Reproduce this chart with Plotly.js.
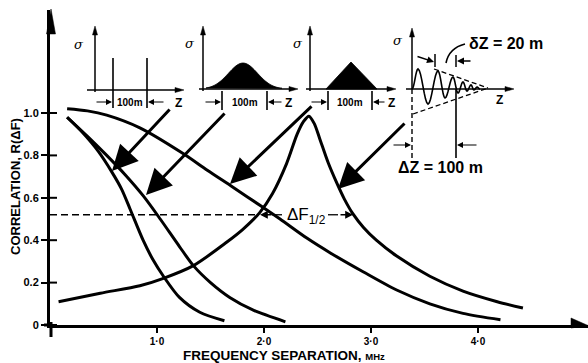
<!DOCTYPE html>
<html><head><meta charset="utf-8">
<script src="https://cdn.plot.ly/plotly-3.0.1.min.js"></script>
<style>html,body{margin:0;padding:0;background:#fff}#chart{width:588px;height:363px}</style>
</head><body><div id="chart"></div>
<script>
// ---- data ----
const freqA = [0.16, 0.30, 0.45, 0.58, 0.67, 0.75, 0.87, 0.96, 1.06, 1.21, 1.40, 1.63];
const corrA = [0.98, 0.91, 0.82, 0.72, 0.64, 0.545, 0.40, 0.31, 0.23, 0.13, 0.06, 0.02];

const freqB = [0.16, 0.35, 0.53, 0.70, 0.87, 1.03, 1.21, 1.34, 1.50, 1.68, 1.90, 2.20];
const corrB = [0.98, 0.89, 0.80, 0.71, 0.61, 0.50, 0.37, 0.28, 0.20, 0.13, 0.07, 0.015];

const freqC = [0.16, 0.35, 0.53, 0.84, 1.24, 1.47, 1.71, 1.99, 2.15, 2.40, 2.62, 2.93, 3.24, 3.55, 3.86, 4.21];
const corrC = [1.02, 1.01, 0.99, 0.93, 0.81, 0.73, 0.65, 0.555, 0.50, 0.41, 0.34, 0.25, 0.165, 0.10, 0.055, 0.025];

const freqD = [0.08, 0.47, 0.84, 1.06, 1.34, 1.65, 1.80, 1.96, 2.08, 2.21, 2.31, 2.37, 2.42, 2.47, 2.52, 2.60, 2.68, 2.75, 2.83, 2.93, 3.05, 3.24, 3.55, 3.86, 4.18, 4.42];
const corrD = [0.11, 0.15, 0.185, 0.22, 0.28, 0.39, 0.45, 0.53, 0.62, 0.76, 0.90, 0.96, 0.985, 0.95, 0.88, 0.765, 0.67, 0.595, 0.525, 0.46, 0.40, 0.325, 0.23, 0.16, 0.11, 0.08];

const halfLevel = 0.52;
const xTickVals = [1, 2, 3, 4];
const xTickText = ['1·0', '2·0', '3·0', '4·0'];
const yTickVals = [0, 0.2, 0.4, 0.6, 0.8, 1.0];
const yTickText = ['0', '0.2', '0.4', '0.6', '0.8', '1.0'];

// ---- layout geometry ----
const FONT = '"Liberation Sans","Arial","Helvetica",sans-serif';
const W = 588, H = 363, L = 50, R = 0, T = 10, B = 38;
const PXX = 107, PXY = 212;
const xMax = (W - L - R) / PXX, yMax = (H - T - B) / PXY;
const dx = p => (p - L) / PXX, dy = p => (H - B - p) / PXY;
const ppx = p => (p - L) / (W - L - R), ppy = p => (H - B - p) / (H - T - B);

const shapes = [];
const annotations = [];
function seg(x0, y0, x1, y1, w, dash) {
  shapes.push({type: 'line', xref: 'x', yref: 'y', x0: dx(x0), y0: dy(y0), x1: dx(x1), y1: dy(y1),
    line: {color: '#000', width: w || 1.5, dash: dash || 'solid'}});
}
function pseg(x0, y0, x1, y1, w) {
  shapes.push({type: 'line', xref: 'paper', yref: 'paper', x0: ppx(x0), y0: ppy(y0), x1: ppx(x1), y1: ppy(y1),
    line: {color: '#000', width: w}});
}
function poly(pts, closed, w, paper) {
  const fx = paper ? ppx : dx, fy = paper ? ppy : dy;
  const path = 'M' + pts.map(p => fx(p[0]) + ',' + fy(p[1])).join('L') + (closed ? 'Z' : '');
  shapes.push({type: 'path', xref: paper ? 'paper' : 'x', yref: paper ? 'paper' : 'y', path: path,
    fillcolor: closed ? '#000' : 'rgba(0,0,0,0)', line: {color: '#000', width: w === undefined ? 1.5 : w}});
}
function arr(tx, ty, sx, sy, w, size, head) {
  annotations.push({x: dx(tx), y: dy(ty), xref: 'x', yref: 'y', ax: sx - tx, ay: sy - ty, text: '',
    showarrow: true, arrowhead: head || 2, arrowwidth: w, arrowsize: size, arrowcolor: '#000', standoff: 0});
}
function txt(s, x, y, size, opt) {
  opt = opt || {};
  const paper = !!opt.paper;
  annotations.push({x: paper ? ppx(x) : dx(x), y: paper ? ppy(y) : dy(y), xref: paper ? 'paper' : 'x', yref: paper ? 'paper' : 'y',
    text: s, showarrow: false,
    xanchor: opt.xa || 'center', yanchor: 'middle', textangle: opt.angle || 0,
    font: {family: opt.family || FONT, size: size, color: '#000', weight: opt.weight || 'bold', style: opt.style || 'normal'}});
}

// main axes extensions and arrowheads
pseg(44, 325, 52, 325, 3);
pseg(51, 322, 51, 337, 3);
poly([[51, 9], [46.5, 34], [55.5, 34]], true, 0.5, true);
poly([[588, 325.5], [571, 318], [571, 328]], true, 0.5, true);
// inside part of y ticks
yTickVals.forEach(v => {
  shapes.push({type: 'line', xref: 'paper', yref: 'y', x0: ppx(50), x1: ppx(57), y0: v, y1: v, line: {color: '#000', width: 2}});
});

// half-level dashed line and ΔF1/2 marker
shapes.push({type: 'line', xref: 'x', yref: 'y', x0: 0, x1: dx(257), y0: halfLevel, y1: halfLevel,
  line: {color: '#000', width: 1.3, dash: '7px,4px'}});
const hy = H - B - halfLevel * PXY;
seg(272, hy, 282, hy, 1.3);
seg(328, hy, 338, hy, 1.3);
arr(260, hy, 273, hy, 1.3, 1.2, 2);
arr(353, hy, 339, hy, 1.3, 1.2, 2);
annotations.push({x: dx(306), y: dy(hy + 1), xref: 'x', yref: 'y', showarrow: false, xanchor: 'center', yanchor: 'middle',
  text: 'ΔF<sub>1/2</sub>', font: {family: FONT, size: 17, color: '#000'}});

// ---- inset 1: two spikes ----
const SIG = {family: '"DejaVu Serif","Liberation Serif",serif', style: 'italic', weight: 'normal'};
seg(95, 32, 95, 92, 1.5); poly([[95, 26], [92.5, 35], [97.5, 35]], true, 0.5);
seg(87, 90, 178, 90, 1.5); poly([[184, 90], [175, 87.5], [175, 92.5]], true, 0.5);
seg(113, 58, 113, 108, 1.6); seg(147, 58, 147, 108, 1.6);
arr(112, 102, 95, 102, 1.2, 1, 2); arr(148, 102, 165, 102, 1.2, 1, 2);
txt('σ', 79, 44, 13, SIG);
txt('100m', 130, 102, 10);
txt('Z', 178, 103, 12);

// ---- inset 2: gaussian ----
seg(203, 32, 203, 91, 1.5); poly([[203, 26], [200.5, 35], [205.5, 35]], true, 0.5);
seg(199, 89, 292, 89, 1.5); poly([[298, 89], [289, 86.5], [289, 91.5]], true, 0.5);
const gPts = [];
for (let x = 206; x <= 282; x += 2) gPts.push([x, 89 - 26 * Math.exp(-Math.pow(x - 243, 2) / (2 * 14.5 * 14.5))]);
poly(gPts, true, 0.8);
seg(222, 91, 222, 110, 1.6); seg(267, 91, 267, 110, 1.6);
arr(221, 102, 204, 102, 1.2, 1, 2); arr(268, 102, 283, 102, 1.2, 1, 2);
txt('σ', 190, 43, 13, SIG);
txt('100m', 245, 102, 10);
txt('Z', 288, 103, 12);

// ---- inset 3: triangle ----
seg(310, 32, 310, 91, 1.5); poly([[310, 26], [307.5, 35], [312.5, 35]], true, 0.5);
seg(306, 89, 390, 89, 1.5); poly([[396, 89], [387, 86.5], [387, 91.5]], true, 0.5);
poly([[326, 89], [351, 62], [377, 89]], true, 0.8);
seg(328, 91, 328, 110, 1.6); seg(372, 91, 372, 110, 1.6);
arr(327, 102, 310, 102, 1.2, 1, 2); arr(373, 102, 386, 102, 1.2, 1, 2);
txt('σ', 298, 43, 13, SIG);
txt('100m', 350, 102, 10);
txt('Z', 391, 103, 12);

// ---- inset 4: damped oscillation ----
seg(412, 34, 412, 89, 1.5); poly([[412, 28], [409.5, 37], [414.5, 37]], true, 0.5);
seg(412, 89, 412, 158, 1.4, '5px,3px');
seg(406, 89, 508, 89, 1.5); poly([[514, 89], [505, 86.5], [505, 91.5]], true, 0.5);
const ext = [[412, 89], [418, 69], [428, 104], [438, 71], [445, 98], [453, 77], [458, 93], [463, 82], [467, 91], [471, 85], [474, 90], [477, 87], [480, 89]];
const wPts = [];
for (let i = 0; i < ext.length - 1; i++) {
  const a = ext[i], b = ext[i + 1];
  for (let k = 0; k < 8; k++) {
    const t = k / 8;
    wPts.push([a[0] + (b[0] - a[0]) * t, a[1] + (b[1] - a[1]) * (1 - Math.cos(Math.PI * t)) / 2]);
  }
}
wPts.push(ext[ext.length - 1]);
poly(wPts, false, 1.6);
seg(434, 69, 488, 88, 1.3, '5px,3px');
seg(413, 114, 488, 88, 1.3, '5px,3px');
seg(456, 89, 456, 158, 1.6);
arr(411, 145, 392, 145, 1.2, 1, 2); arr(457, 145, 478, 145, 1.2, 1, 2);
txt('σ', 398, 40, 13, SIG);
txt('Z', 499, 100, 12);
// δZ markers
seg(435, 54, 435, 67, 1.5); seg(456, 55, 456, 67, 1.5);
arr(434, 62, 416, 56, 1.4, 1, 2); arr(457, 61, 472, 61, 1.4, 1, 2);
shapes.push({type: 'path', xref: 'x', yref: 'y', line: {color: '#000', width: 1.6},
  path: 'M' + dx(446) + ',' + dy(63) + ' Q' + dx(449) + ',' + dy(48) + ' ' + dx(465) + ',' + dy(44)});
txt('δZ = 20 m', 506, 43, 16);
txt('ΔZ = 100 m', 440, 167, 16);

// ---- big pointer arrows ----
arr(112, 171, 171, 108, 3, 1.7, 2);
arr(146, 195, 226, 112, 3, 1.7, 2);
arr(230, 184, 313, 105, 3, 1.7, 2);
arr(338, 189, 406, 122, 3, 1.7, 2);

// ---- axis titles ----
txt('CORRELATION, R(ΔF)', 15, 187, 13, {angle: -90, paper: true});
txt('FREQUENCY SEPARATION, <span style="font-size:9.5px">MHz</span>', 284, 355.5, 13.5, {paper: true});

const lineStyle = {color: '#000', width: 3, shape: 'spline', smoothing: 0.8};
const traces = [
  {x: freqA, y: corrA, mode: 'lines', line: lineStyle, name: 'A'},
  {x: freqB, y: corrB, mode: 'lines', line: lineStyle, name: 'B'},
  {x: freqC, y: corrC, mode: 'lines', line: lineStyle, name: 'C'},
  {x: freqD, y: corrD, mode: 'lines', line: lineStyle, name: 'D'}
];

const layout = {
  width: W, height: H, margin: {l: L, r: R, t: T, b: B, pad: 0},
  paper_bgcolor: '#fff', plot_bgcolor: '#fff', showlegend: false,
  xaxis: {range: [0, xMax], showgrid: false, zeroline: false, showline: true, linewidth: 3, linecolor: '#000',
    ticks: 'outside', ticklen: 5, tickwidth: 2, tickcolor: '#000', tickvals: xTickVals, ticktext: xTickText,
    tickfont: {family: FONT, size: 10, color: '#000', weight: 'bold'}, fixedrange: true},
  yaxis: {range: [0, yMax], showgrid: false, zeroline: false, showline: true, linewidth: 3, linecolor: '#000',
    ticks: 'outside', ticklen: 6, tickwidth: 2, tickcolor: '#000', tickvals: yTickVals, ticktext: yTickText,
    tickfont: {family: FONT, size: 11, color: '#000', weight: 'bold'}, fixedrange: true},
  shapes: shapes, annotations: annotations
};
Plotly.newPlot('chart', traces, layout, {displayModeBar: false, staticPlot: true});
</script></body></html>
